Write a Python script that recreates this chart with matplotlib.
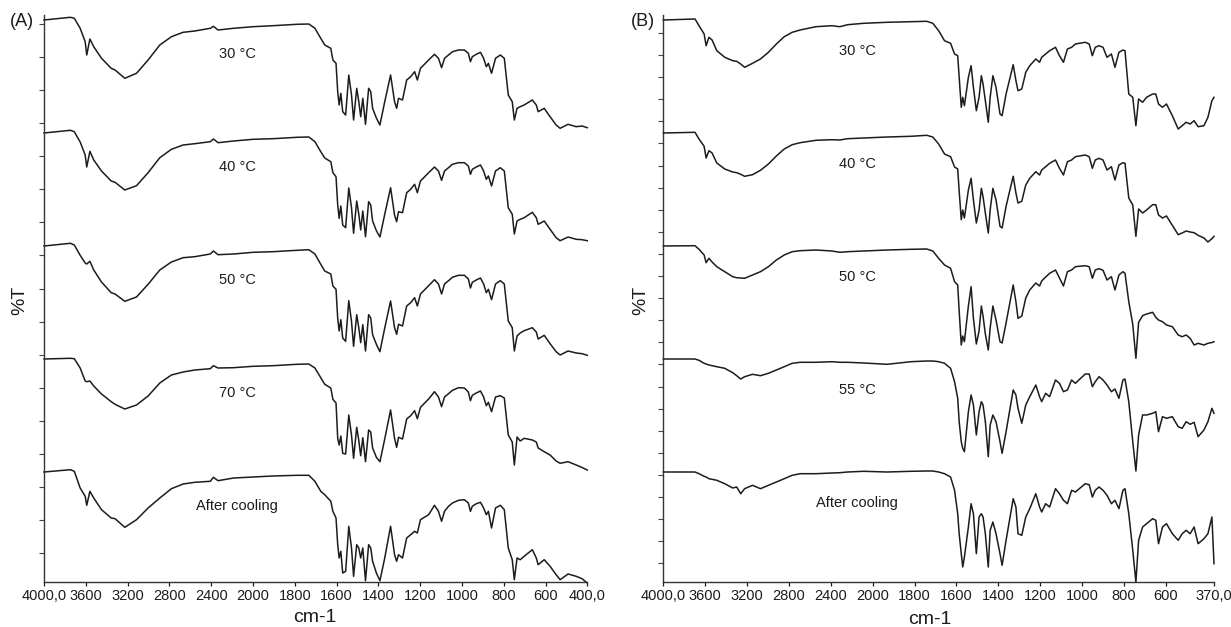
import numpy as np
import matplotlib
matplotlib.use('Agg')
import matplotlib.pyplot as plt
from matplotlib.ticker import FixedLocator, FixedFormatter

plt.rcParams['font.family'] = ['Liberation Sans', 'DejaVu Sans']

# ---- panel A: wavenumbers (cm-1) and relative %T of each trace ----
wn_a = [4000, 3747, 3710, 3654, 3606, 3591, 3561, 3524, 3450, 3357,
        3320, 3227, 3115, 3004, 2892, 2781, 2669, 2558, 2409, 2379,
        2335, 2186, 2000, 1905, 1790, 1733, 1704, 1676, 1657, 1628,
        1618, 1603, 1595, 1588, 1580, 1571, 1557, 1542, 1529, 1519,
        1504, 1494, 1485, 1475, 1462, 1447, 1437, 1428, 1410, 1393,
        1370, 1342, 1323, 1313, 1304, 1285, 1265, 1246, 1227, 1214,
        1199, 1160, 1132, 1113, 1098, 1084, 1065, 1046, 1017, 989,
        970, 960, 951, 932, 912, 897, 884, 874, 859, 840,
        817, 798, 779, 760, 750, 737, 722, 703, 664, 645,
        636, 607, 579, 550, 531, 493, 454, 426, 401]

t_a30 = [110, 112.7, 111.7, 101.7, 88.3, 75, 91, 83.3, 71.7, 61.7,
         60, 51.7, 56.7, 70, 85, 93.3, 97.7, 99, 101.7, 103.7,
         100, 101.7, 103.3, 104.3, 105.7, 106, 101.7, 91.7, 85, 81.7,
         70, 66.7, 38.3, 25, 36.7, 18.3, 15, 55, 35, 10,
         41.7, 28.3, 13.3, 31.7, 5.7, 41.7, 38.3, 21.7, 12, 5,
         28.3, 55, 28.3, 21.7, 31.7, 30, 50, 53.3, 58.3, 50,
         61.7, 70, 75.7, 71.7, 62.3, 71.7, 75, 78.3, 80, 80,
         76.7, 68.3, 73.3, 75.7, 77.7, 71.7, 63.3, 66.7, 56.7, 71.7,
         75, 71.7, 35, 28.3, 10, 21.7, 23.3, 25, 30, 25,
         18.3, 21.7, 13.3, 5, 1.7, 5.7, 3.3, 4, 2.3]

t_a40 = [110, 112.7, 111.3, 101, 88, 76, 91.7, 83, 72, 62,
         60.7, 53, 57.3, 70.3, 85.3, 93.7, 98, 99.3, 101.3, 104,
         100.3, 102, 103.7, 104.3, 105.7, 106, 101.3, 91.3, 85, 81.3,
         70.3, 66.3, 38, 24.7, 37, 18, 15.3, 55, 35.3, 9.7,
         42, 28.7, 13, 32, 6.3, 41.3, 38, 22, 12.3, 6,
         28.7, 55.3, 28, 21.3, 31.3, 30.3, 50.3, 53.7, 58.7, 50.3,
         62, 70.3, 76, 72, 62.7, 72, 75.3, 78.7, 80.3, 80.3,
         77, 68.7, 73.7, 76, 78, 72, 63.7, 67, 57, 72,
         75.3, 72, 35.3, 28.7, 9, 22, 23.7, 25.3, 30.7, 25.3,
         18.7, 22, 13.7, 5.3, 2.3, 6, 3.7, 3.3, 2.3]

t_a50 = [110, 112.7, 111, 100.7, 93, 92, 94.7, 86, 74, 63.3,
         62, 54.7, 59, 71.7, 86, 94, 98.3, 99.3, 102, 105,
         101.3, 102, 103.7, 104.3, 105.7, 106.3, 102, 91.7, 85, 82,
         70, 66.7, 37.7, 25, 36.3, 18, 14.7, 55.3, 34.7, 9.7,
         41.3, 28, 13.3, 31.3, 5, 41.3, 38, 21.3, 11.7, 4.3,
         28, 55, 28.3, 21.7, 31.7, 30, 50, 53.3, 58.3, 50,
         62, 70.3, 76.3, 72, 62, 72, 75.3, 78.7, 80.7, 80.7,
         77, 68, 73.7, 76, 78, 72, 63.3, 66.7, 56.3, 72,
         75.3, 72, 35, 28.3, 5, 20, 23, 25.3, 28.3, 24,
         17, 20.7, 12.3, 4.3, 1, 5, 3, 2.3, 0.7]

t_a70 = [110, 110.7, 110.3, 101, 88, 87.3, 88, 83, 75, 67.3,
         64.7, 60, 64, 73, 86, 94, 97, 99, 100.3, 103.3,
         101, 101.3, 102.7, 103.3, 104.7, 105, 101, 91.3, 84.7, 81,
         69.7, 66, 30.7, 24, 33, 15.7, 15, 54, 34, 10.7,
         41.7, 28.3, 13.3, 31.3, 7.3, 39, 37, 21, 11.7, 7.3,
         30, 59, 30.7, 21.7, 31.7, 30, 50, 53.3, 58.3, 50.3,
         61.7, 70, 77.3, 72, 62.3, 72, 75.3, 78.7, 81.3, 81,
         77, 68.3, 73.7, 76, 78, 72, 63.3, 66.7, 57.3, 72,
         73.3, 71, 34, 27, 4, 32, 28, 30.7, 29, 27,
         21, 17.3, 14, 8, 5.7, 7.3, 4, 1.5, -1]

t_acool = [110, 112.3, 110.7, 94, 85.7, 76.7, 90.7, 84, 72.3, 64,
           63.3, 54.7, 62.3, 74, 84, 93.3, 98, 99.7, 100.7, 104.7,
           101.3, 104, 105, 106, 106.7, 106.7, 100.7, 90.7, 87.3, 80.7,
           70.7, 64, 37.3, 24, 30.7, 9, 10.7, 55.7, 34, 5.7,
           37.3, 34, 24, 34, 1.3, 37.3, 34, 20.7, 9, 1.3,
           24, 55.7, 27.3, 20.7, 27.3, 24, 44, 47.3, 50.7, 49,
           62.3, 67.3, 76.7, 70.7, 60.7, 70.7, 75.7, 79, 81.7, 82.3,
           79, 70.7, 75.7, 78.3, 79.7, 74, 67.3, 70.7, 54, 74,
           76.7, 72.3, 34, 22.3, 2.3, 24, 22.3, 25.7, 32.3, 24,
           17.3, 22.3, 15.7, 7.3, 2.3, 8, 5.7, 3.3, -1]

# ---- panel B ----
wn_b = [4000, 3697, 3659, 3610, 3591, 3564, 3534, 3489, 3413, 3337,
        3299, 3261, 3223, 3148, 3072, 2996, 2920, 2845, 2769, 2693,
        2542, 2390, 2314, 2239, 2087, 1931, 1817, 1742, 1713, 1685,
        1657, 1628, 1609, 1594, 1587, 1577, 1570, 1562, 1543, 1530,
        1519, 1505, 1492, 1481, 1473, 1462, 1448, 1439, 1426, 1411,
        1392, 1382, 1363, 1329, 1316, 1306, 1288, 1269, 1250, 1221,
        1203, 1193, 1174, 1155, 1127, 1108, 1089, 1070, 1050, 1032,
        985, 966, 951, 937, 919, 900, 881, 860, 843, 824,
        805, 795, 777, 758, 743, 730, 711, 692, 663, 648,
        635, 616, 597, 569, 541, 522, 503, 484, 465, 446,
        418, 399, 380, 370]

t_b30 = [110, 111, 104.3, 96, 84.3, 92.7, 90, 79.3, 72.7, 69.3,
         68.7, 66, 62.7, 66.7, 71, 77.7, 86, 93.3, 97.7, 100,
         103.3, 104.3, 103.3, 105.3, 106.7, 107.7, 108.3, 108.7, 106.7, 99.3,
         89.3, 86.7, 76, 74.3, 52.7, 22.7, 32.7, 24.3, 52.7, 64.3,
         42.7, 19.3, 32.7, 54.3, 46, 29.3, 7.7, 32.7, 54.3, 42.7,
         16, 14.3, 36, 65.3, 49.3, 39.3, 41, 57.7, 64.3, 71,
         67.7, 72.7, 76, 79.3, 82.7, 74.3, 67.7, 81, 82.7, 86,
         87.7, 86, 74.3, 82.7, 84.3, 82.7, 72.7, 76, 62.7, 77.7,
         80, 79.3, 36, 32.7, 4.3, 31, 27.7, 32.7, 36, 36,
         26, 22.7, 26, 14.3, 1, 4.3, 7.7, 6, 9.3, 3.3,
         4.3, 12.7, 29.3, 32.7]

t_b40 = [110, 110.7, 104, 96.7, 85, 92.3, 90, 80, 74, 71,
         70.3, 68.7, 66.7, 68.3, 72.7, 79, 87, 94, 98.3, 100.3,
         102.7, 103.3, 103, 104.3, 105, 106, 106.7, 107.7, 106, 99,
         89, 86.3, 76, 74, 52, 23.3, 33, 25, 53, 64.7,
         43, 20, 33, 54.7, 46.3, 30, 10, 33, 54.7, 43,
         16.7, 15, 36.7, 66.7, 50, 40, 41.7, 58, 64.7, 71.3,
         68, 73, 76.3, 79.7, 83, 74.7, 68, 81.3, 83, 86.3,
         88, 86.3, 74.7, 83, 84.7, 83, 73, 76.3, 63, 78,
         80.3, 79.7, 45, 38, 6.7, 34, 30, 33, 38.3, 38.3,
         28, 25, 27, 17.7, 8.3, 10, 12, 11, 10.3, 7.7,
         5, 1, 4.3, 6.7]

t_b50 = [110, 110.3, 106.7, 101, 93.3, 97.7, 94, 89.3, 84.3, 79.3,
         78.3, 78, 77.7, 81, 84.3, 89.3, 96, 101, 104.3, 105.3,
         106, 105, 103.7, 104.3, 105, 106, 106.7, 107, 105, 97.7,
         91, 87.7, 74.3, 71, 45, 11, 20, 14.3, 50, 69.3,
         38, 12, 25, 50, 40, 22, 6, 28, 50, 36,
         14.3, 13, 33, 71, 54.3, 37.7, 40, 58, 66, 73,
         70, 75, 79, 82.7, 86, 78, 70, 84.3, 86, 89.3,
         90.3, 89.3, 77.7, 86, 87.3, 85.7, 76, 79.3, 66, 81,
         84.3, 82.7, 54.3, 31.7, -2.3, 33.7, 40.3, 42, 43.7, 38.7,
         36, 34.3, 31, 29.3, 21, 19.3, 21, 17.7, 11, 12.7,
         11, 12.7, 13.5, 14.3]

t_b55 = [110, 110, 108.7, 105.7, 105, 104, 103.3, 102.3, 100.7, 96.3,
         93.3, 90, 92.3, 94.7, 93.3, 95.7, 99, 102.3, 105.7, 106.7,
         106.7, 107.3, 106.7, 106.7, 106, 104.7, 107.3, 108, 108, 107.3,
         105.7, 100.7, 87.3, 70.7, 47.3, 27.3, 20.7, 17.3, 57.3, 74,
         64, 34, 57.3, 67.3, 64, 47.3, 12.3, 44, 54, 47.3,
         27.3, 15.7, 37.3, 79, 74, 60.7, 45.7, 64, 72.3, 84,
         72.3, 67.3, 75.7, 72.3, 89, 85.7, 77.3, 79, 89, 85.7,
         95, 95, 82.3, 87.3, 92.3, 89, 84, 77.3, 80, 70.7,
         89, 90, 67.3, 27.3, -2, 34, 54, 54, 55.7, 57.3,
         37.3, 52.3, 50.7, 52.3, 42.3, 40.7, 47.3, 44.7, 46.7, 32.3,
         39, 47.3, 60.7, 55.7]

t_bcool = [110, 110, 108.3, 105.7, 105, 103.3, 102.7, 101.7, 98.3, 94,
           95, 88.3, 93.3, 96.7, 93.3, 96.7, 100, 103.3, 106.7, 108.3,
           108.3, 109, 109.3, 110, 110.7, 110, 110.7, 111, 111, 110,
           108.3, 105, 91.7, 68.3, 48.3, 28.3, 15, 25, 55, 78.3,
           68.3, 28.3, 65, 68.3, 65, 48.3, 15, 51.7, 60, 48.3,
           28.3, 16.7, 41.7, 83.3, 75, 48.3, 46.7, 65, 73.3, 88.3,
           75, 70, 78.3, 75, 93.3, 88.3, 81.7, 78.3, 91.7, 90,
           98.3, 97.3, 85, 91.7, 95, 91.7, 86.7, 78.3, 81.7, 73.3,
           91.7, 93.3, 68.3, 31.7, 0, 41.7, 55, 58.3, 63.3, 61.7,
           38.3, 55, 58.3, 48.3, 41.7, 48.3, 51.7, 48.3, 55, 38.3,
           43.3, 48.3, 65, 18.3]

labels_a = ['30 °C', '40 °C', '50 °C', '70 °C', 'After cooling']
labels_b = ['30 °C', '40 °C', '50 °C', '55 °C', 'After cooling']

ticks_a = [4000, 3600, 3200, 2800, 2400, 2000, 1800, 1600, 1400, 1200, 1000, 800, 600, 400]
ticklab_a = ['4000,0', '3600', '3200', '2800', '2400', '2000', '1800', '1600',
             '1400', '1200', '1000', '800', '600', '400,0']
ticks_b = [4000, 3600, 3200, 2800, 2400, 2000, 1800, 1600, 1400, 1200, 1000, 800, 600, 370]
ticklab_b = ['4000,0', '3600', '3200', '2800', '2400', '2000', '1800', '1600',
             '1400', '1200', '1000', '800', '600', '370,0']


# spectrometer style axis: 2x expansion below 2000 cm-1
def fwd(x):
    x = np.asarray(x, dtype=float)
    return np.where(x > 2000, 2000 + (x - 2000) / 2, x)


def inv(u):
    u = np.asarray(u, dtype=float)
    return np.where(u > 2000, 2000 + (u - 2000) * 2, u)


W, H = 1231, 627
fig = plt.figure(figsize=(W / 100, H / 100), dpi=100)
offsets = [452, 339, 226, 113, 0]
ink = '#1c1c1c'


def panel(rect, wn, traces, labels, ticks, ticklab, xmin, ytick0, ytick_step, lab_dy):
    ax = fig.add_axes(rect)
    ax.set_xscale('function', functions=(fwd, inv))
    for tr, off, lab in zip(traces, offsets, labels):
        ax.plot(wn, np.array(tr) + off, color=ink, lw=1.1, clip_on=False)
        ax.text(2150, off + lab_dy, lab, ha='center', va='center', fontsize=10.5, color=ink)
    ax.set_xlim(4000, xmin)
    ax.set_ylim(0, 567)
    ax.xaxis.set_major_locator(FixedLocator(ticks))
    ax.xaxis.set_major_formatter(FixedFormatter(ticklab))
    ax.xaxis.set_minor_locator(FixedLocator([]))
    ax.set_yticks(np.arange(ytick0, 567, ytick_step))
    ax.set_yticklabels([])
    ax.tick_params(axis='x', direction='out', length=3, width=0.9, labelsize=10.5, pad=2, colors=ink)
    ax.tick_params(axis='y', direction='out', length=3.5, width=0.8, colors='#444444')
    for s in ['top', 'right']:
        ax.spines[s].set_visible(False)
    for s in ['left', 'bottom']:
        ax.spines[s].set_color('#333333')
        ax.spines[s].set_linewidth(1.0)
    return ax


panel([44 / W, 45 / H, 543.5 / W, 567 / H], wn_a,
      [t_a30, t_a40, t_a50, t_a70, t_acool], labels_a, ticks_a, ticklab_a, 400, 28.7, 33.1, 76)
panel([663.3 / W, 45 / H, 550.7 / W, 567 / H], wn_b,
      [t_b30, t_b40, t_b50, t_b55, t_bcool], labels_b, ticks_b, ticklab_b, 370, 18.7, 22.1, 79)

fig.text(22 / W, 1 - 22 / H, '(A)', ha='center', va='center', fontsize=13, color=ink)
fig.text(643 / W, 1 - 22 / H, '(B)', ha='center', va='center', fontsize=13, color=ink)
fig.text(20 / W, 1 - 300 / H, '%T', ha='center', va='center', rotation=90, fontsize=14, color=ink)
fig.text(641 / W, 1 - 300 / H, '%T', ha='center', va='center', rotation=90, fontsize=14, color=ink)
fig.text(315 / W, 1 - 617 / H, 'cm-1', ha='center', va='center', fontsize=14, color=ink)
fig.text(930 / W, 1 - 619 / H, 'cm-1', ha='center', va='center', fontsize=14, color=ink)

fig.savefig('out.png', dpi=100)
